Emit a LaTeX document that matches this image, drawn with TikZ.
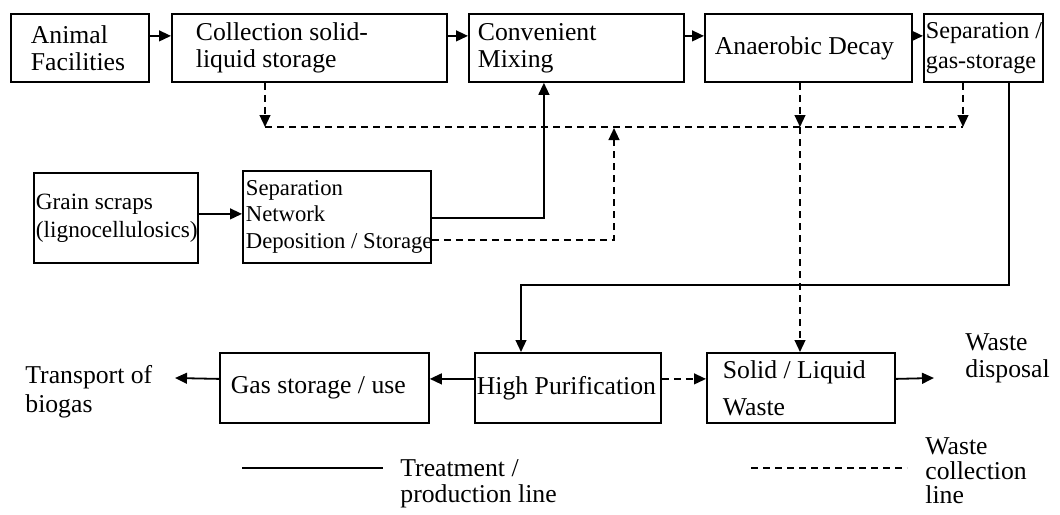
\documentclass[tikz,border=0pt]{standalone}
\usepackage{fontspec}
\setmainfont{Liberation Serif}
\usetikzlibrary{arrows.meta}

\begin{document}
\begin{tikzpicture}
[
    x = 1pt, y = -1pt,
    box/.style = {draw, line width = 0.9pt, align = flush left, inner ysep = 0pt,
        anchor = north west, font = \fontsize{12.85}{13.5}\selectfont},
    txt/.style = {align = flush left, anchor = west, inner sep = 0pt,
        font = \fontsize{12.85}{13.5}\selectfont},
    pline/.style = {line width = 0.9pt},
    wline/.style = {line width = 0.9pt, dash pattern = on 3.5pt off 2.5pt},
    flow/.style = {pline, -{Triangle[length = 6pt, width = 5.4pt]}},
    wflow/.style = {wline, -{Triangle[length = 6pt, width = 5.4pt]}},
]
\useasboundingbox (0,0) rectangle (530,257);

% top row
\node[box, text width = 49pt, inner xsep = 10pt, minimum height = 34pt]
    (anim) at (5,6.5) {Animal\\Facilities};
\node[box, text width = 113.5pt, inner xsep = 12pt, minimum height = 34pt]
    (coll) at (85.5,6.5) {Collection solid-\\liquid storage};
\node[box, text width = 98.5pt, inner xsep = 4.5pt, minimum height = 34pt]
    (mix) at (234,6.5) {Convenient\\Mixing};
\node[box, text width = 93.5pt, inner xsep = 5pt, minimum height = 34pt]
    (anae) at (352,6.5) {\mbox{Anaerobic Decay}\\[2pt]};
\node[box, text width = 57.5pt, inner xsep = 1pt, minimum height = 34pt,
    font = \fontsize{12.1}{15}\selectfont]
    (sepg) at (461.5,6.5) {\mbox{Separation /}\\gas-storage};

% middle row
\node[box, text width = 80pt, inner xsep = 1pt, minimum height = 45pt,
    font = \fontsize{11.65}{14}\selectfont]
    (grain) at (16.5,86) {Grain scraps\\(lignocellulosics)};
\node[box, text width = 91pt, inner xsep = 1.5pt, minimum height = 46pt,
    font = \fontsize{11.35}{13.25}\selectfont]
    (sepn) at (121,85) {Separation\\Network\\\mbox{Deposition / Storage}\\[1pt]};

% bottom row
\node[box, text width = 93.5pt, inner xsep = 5.5pt, minimum height = 35pt]
    (gas) at (109.5,176) {\mbox{Gas storage / use}};
\node[box, text width = 91pt, inner xsep = 1pt, minimum height = 35pt]
    (high) at (237,176) {\mbox{High Purification}};
\node[box, text width = 78pt, inner xsep = 8pt, minimum height = 35pt,
    font = \fontsize{12.85}{18.5}\selectfont]
    (waste) at (353,176) {\mbox{Solid / Liquid}\\Waste};

\node[txt, font = \fontsize{12.85}{14.5}\selectfont]
    (trans) at (12.5,195.75) {Transport of\\biogas};
\node[txt] (disp) at (482.5,179.25) {Waste\\disposal};

% legend
\node[txt, font = \fontsize{12.85}{13}\selectfont]
    (legt) at (200,242) {Treatment /\\production line};
\node[txt, font = \fontsize{12.85}{12.25}\selectfont]
    (legw) at (462.5,235.5) {Waste\\collection\\line};
\coordinate (leg1a) at (121,234);
\coordinate (leg1b) at (191.5,234);
\coordinate (leg2a) at (375.5,234);
\coordinate (leg2b) at (453.5,234);
\draw[pline] (leg1a) -- (leg1b);
\draw[wline] (leg2a) -- (leg2b);

% treatment line
\draw[flow] ([yshift = 6pt]anim.east) -- ([yshift = 6pt]coll.west);
\draw[flow] ([yshift = 6pt]coll.east) -- ([yshift = 6pt]mix.west);
\draw[flow] ([yshift = 6pt]mix.east) -- ([yshift = 6pt]anae.west);
\draw[flow] ([yshift = 6pt]anae.east) -- ([yshift = 6pt]sepg.west);
\draw[flow] ([yshift = 2pt]grain.east) -- ([yshift = 2pt]grain.east -| sepn.west);
\draw[flow] ([yshift = -0.5pt]sepn.east) -| ([xshift = -16.25pt]mix.south);
\coordinate (turn) at (260.5,142.5);
\draw[flow] ([xshift = 12.75pt]sepg.south) |- (turn) -- (turn |- high.north);
\coordinate (transend) at (87.5,189);
\coordinate (dispend) at (467,189);
\draw[flow] ([yshift = 4.5pt]high.west) -- ([yshift = 4.5pt]gas.east);
\draw[flow] ([yshift = 4.5pt]gas.west) -- (transend);
\draw[flow] ([yshift = 4.5pt]waste.east) -- (dispend);

% waste collection line
\coordinate (busL) at (132.5,63.5);
\coordinate (busS) at (307,64);
\coordinate (busA) at (400,63.5);
\coordinate (busR) at (481.5,63.5);
\draw[wline] (busL) -- (busR);
\draw[wflow] (busL |- coll.south) -- (busL);
\draw[wflow] (busA |- anae.south) -- (busA);
\draw[wflow] (busA) -- (busA |- waste.north);
\draw[wflow] (busR |- sepg.south) -- (busR);
\draw[wflow] ([yshift = -11.5pt]sepn.east) -| (busS);
\draw[wflow] ([yshift = 4.5pt]high.east) -- ([yshift = 4.5pt]waste.west);
\end{tikzpicture}
\end{document}
